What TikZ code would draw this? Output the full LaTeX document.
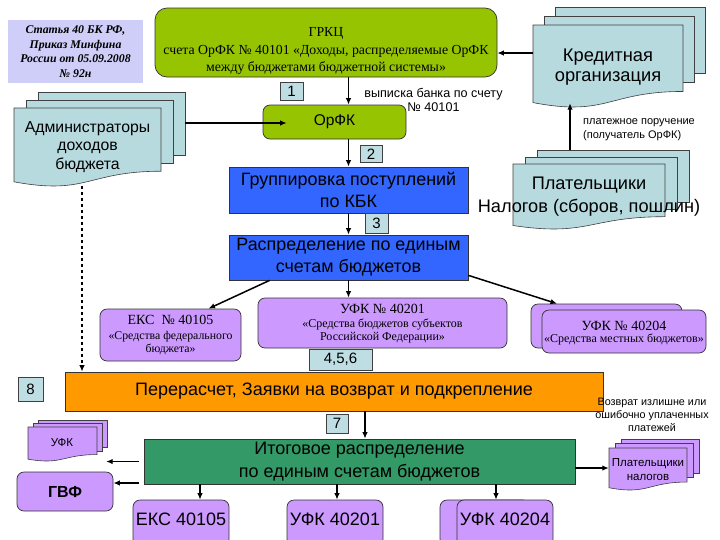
\documentclass[tikz,border=0pt]{standalone}
\usepackage{fontspec}
\setmainfont{Liberation Serif}
\setsansfont{Liberation Sans}
\usetikzlibrary{arrows.meta,calc}
\definecolor{cOlive}{RGB}{150,196,0}
\definecolor{cBlue}{RGB}{51,102,255}
\definecolor{cLav}{RGB}{204,153,255}
\definecolor{cDoc}{RGB}{183,218,223}
\definecolor{cLab}{RGB}{190,222,228}
\definecolor{cOrange}{RGB}{255,153,0}
\definecolor{cGreen}{RGB}{51,153,102}
\definecolor{cLaw}{RGB}{206,206,248}
\newcommand\fs[2]{\fontsize{#1}{#2}\selectfont}
% multi-document shape: x0 y0 x1 y1(trough) dx dy fill
\newcommand\mdoc[7]{%
  \pgfmathsetmacro\mdW{#3-#1}\pgfmathsetmacro\mdH{(#4-#2)/0.987}%
  \foreach \k in {2,1}{\filldraw[fill=#7,draw=black!75,line width=0.6pt] ({#1+\k*#5},{#2-\k*#6}) rectangle ({#3+\k*#5},{#2-\k*#6+0.8*\mdH});}
  \filldraw[fill=#7,draw=black!75,line width=0.6pt] (#1,#2) -- (#3,#2) -- (#3,{#2+0.8*\mdH}) .. controls ({#1+0.5*\mdW},{#2+0.8*\mdH}) and ({#1+0.5*\mdW},{#2+1.107*\mdH}) .. (#1,{#2+0.934*\mdH}) -- cycle;
}
\tikzset{
  x=1pt,y=-1pt,
  box/.style={draw=black!80,line width=0.7pt,inner sep=0pt,align=center},
  rbox/.style={box,rounded corners=7pt},
  ghost/.style={inner sep=0pt,draw=none},
  txt/.style={inner sep=0pt,align=center},
  num/.style={draw=black!75,line width=0.6pt,fill=cLab,inner sep=0pt,font=\sffamily\fs{15}{15}},
  arr/.style={-{Latex[length=6.5pt,width=5.5pt]},line width=1.5pt,black},
}
\begin{document}
\begin{tikzpicture}
\useasboundingbox (0,0) rectangle (720,539);
\fill[white] (0,0) rectangle (720,539);
\begin{scope}
\clip (0,0) rectangle (720,539);
% law box
\node[txt,fill=cLaw,minimum width=135,minimum height=63,font=\bfseries\itshape\fs{11.8}{14.7}] (law) at (75.5,51.5) {Статья 40 БК РФ,\\Приказ Минфина\\России от 05.09.2008\\№ 92н};
% GRKC
\node[rbox,fill=cOlive,minimum width=342,minimum height=69,rounded corners=12pt] (grkc) at (326,42.5) {};
\node[txt,font=\fs{13.8}{17.5}] (grkctxt) at (326,51) {ГРКЦ\\счета ОрФК № 40101 «Доходы, распределяемые ОрФК\\между бюджетами бюджетной системы»};
% Kredit
\mdoc{533}{25}{683}{107}{11}{9}{cDoc}
\node[ghost,minimum width=150,minimum height=82] (kredit) at (608,66) {};
\node[txt,font=\sffamily\fs{18.3}{20.5}] (kredittxt) at (608,67) {Кредитная\\организация};
% Admin
\mdoc{14}{108}{161}{186}{12}{8}{cDoc}
\node[ghost,minimum width=147,minimum height=78] (admin) at (87.5,147) {};
\node[txt,font=\sffamily\fs{15.8}{18.5}] (admintxt) at (87.5,147) {Администраторы\\доходов\\бюджета};
% Plat
\mdoc{513}{164}{665}{229}{12}{7}{cDoc}
\node[ghost,minimum width=152,minimum height=65] (plat) at (589,196.5) {};
\node[txt,font=\sffamily\fs{18.2}{23}] (plattxt) at (589,197) {Плательщики\\Налогов (сборов, пошлин)};
% OrFK
\node[rbox,fill=cOlive,minimum width=143,minimum height=34,font=\sffamily\fs{15.5}{15}] (orfk) at (334.5,122) {ОрФК};
% blue boxes
\node[box,fill=cBlue,minimum width=239,minimum height=46,font=\sffamily\fs{17.9}{22}] (grup) at (348.5,190) {Группировка поступлений\\по КБК};
\node[box,fill=cBlue,minimum width=239,minimum height=45,font=\sffamily\fs{17.9}{22}] (rasp) at (348.5,257.5) {Распределение по единым\\счетам бюджетов};
% lavender
\node[rbox,fill=cLav,minimum width=141,minimum height=52] (ekc1) at (170.5,335) {};
\node[txt,font=\fs{11.8}{13.5}] (ekc1txt) at (170.5,335) {\fs{14}{13}ЕКС\ \ № 40105\\[1pt]«Средства федерального\\бюджета»};
\node[rbox,fill=cLav,minimum width=249,minimum height=50] (ufk1) at (382.5,323) {};
\node[txt,font=\fs{12}{12.5}] (ufk1txt) at (382.5,323.5) {\fs{14}{14}УФК № 40201\\[2pt]«Средства бюджетов субъектов\\Российской Федерации»};
\node[rbox,fill=cLav,minimum width=151,minimum height=44] (ufk2b) at (606.5,326) {};
\node[rbox,fill=cLav,minimum width=164,minimum height=43] (ufk2) at (624,331.5) {};
\node[txt,font=\fs{12}{12}] (ufk2txt) at (624,333) {\fs{14}{16.5}УФК № 40204\\«Средства местных бюджетов»};
% orange and green
\node[box,fill=cOrange,minimum width=538,minimum height=39,font=\sffamily\fs{18}{18}] (orange) at (334,391.5) {Перерасчет, Заявки на возврат и подкрепление};
\node[box,fill=cGreen,minimum width=431,minimum height=45,font=\sffamily\fs{18}{23}] (green) at (359.5,461.5) {Итоговое распределение\\по единым счетам бюджетов};
% small docs
\mdoc{28}{427}{97}{461}{5}{3.5}{cLav}
\node[ghost,minimum width=69,minimum height=34] (ufks) at (62.5,444) {};
\node[txt,font=\sffamily\fs{11.5}{12}] (ufkstxt) at (62,443) {УФК};
\mdoc{609}{448}{687}{490}{6}{4.5}{cLav}
\node[ghost,minimum width=78,minimum height=42] (pn) at (648,469) {};
\node[txt,font=\sffamily\fs{11.5}{14.5}] (pntxt) at (648,469.5) {Плательщики\\налогов};
\node[rbox,fill=cLav,minimum width=96,minimum height=39,font=\bfseries\sffamily\fs{16}{16}] (gvf) at (65,491.5) {ГВФ};
% bottom boxes
\node[rbox,fill=cLav,minimum width=96,minimum height=46,font=\sffamily\fs{18}{18}] (ekc2) at (181,523) {\raisebox{8pt}{ЕКС 40105}};
\node[rbox,fill=cLav,minimum width=96,minimum height=46,font=\sffamily\fs{18}{18}] (ufk3) at (335,523) {\raisebox{8pt}{УФК 40201}};
\node[rbox,fill=cLav,minimum width=90,minimum height=46] (ufk4b) at (485,523) {};
\node[rbox,fill=cLav,minimum width=96,minimum height=46,font=\sffamily\fs{18}{18}] (ufk4) at (505,523) {\raisebox{8pt}{УФК 40204}};
% number labels
\node[num,minimum width=23,minimum height=18] (n1) at (291.5,91) {1};
\node[num,minimum width=22,minimum height=17] (n2) at (371,154) {2};
\node[num,minimum width=23,minimum height=20] (n3) at (376.5,223) {3};
\node[num,minimum width=63,minimum height=21] (n456) at (340.5,359.5) {4,5,6};
\node[num,minimum width=22,minimum height=19] (n7) at (337,423.5) {7};
\node[num,minimum width=25,minimum height=24] (n8) at (30.5,389.5) {8};
% free labels
\node[txt,font=\sffamily\fs{12.6}{14}] (vyp) at (433.5,100) {выписка банка по счету\\№ 40101};
\node[txt,align=left,anchor=west,font=\sffamily\fs{11}{14}] (plpor) at (583,130) {платежное поручение\\(получатель ОрФК)};
\node[txt,font=\sffamily\fs{10.8}{13}] (vozv) at (652,415) {Возврат излишне или\\ошибочно уплаченных\\платежей};
% connectors
\draw[arr] ([yshift=13pt]kredit.west) -- ([yshift=13pt]kredit.west -| grkc.east);
\draw[arr] ([xshift=-19pt,yshift=14pt]plat.north) -- ([xshift=-38pt,yshift=4pt]kredit.south);
\draw[arr] (grkc.south -| grup.north) -- (orfk.north -| grup.north);
\draw[arr] ([xshift=24pt,yshift=24pt]admin.east) -- ([xshift=24pt,yshift=24pt]admin.east -| orfk.west);
\draw[arr] (orfk.south -| grup.north) -- (grup.north);
\draw[arr] (grup.south) -- (rasp.north);
\draw[arr] (rasp.south) -- (rasp.south |- ufk1.north);
\draw[arr] ([xshift=41pt]rasp.south west) -- ([xshift=38pt]ekc1.north);
\draw[arr] ([yshift=5pt]rasp.south east) -- ([xshift=-67pt,yshift=6pt]ufk2.north);
\draw[arr,dashed] ([xshift=-5.5pt]admin.south) -- ([xshift=-5.5pt]admin.south |- orange.north);
\draw[arr] ([xshift=5.5pt]green.north |- orange.south) -- ([xshift=5.5pt]green.north);
\draw[arr] ([xshift=-5pt]green.west) -- ([xshift=9pt]ufks.east |- green.west);
\draw[arr] ([xshift=-5pt,yshift=-21.5pt]green.west) -- ([yshift=-21.5pt]green.west -| gvf.east);
\draw[arr] ([yshift=-6.5pt]green.east) -- ([yshift=-6.5pt]green.east -| pn.west);
\draw[arr] ([xshift=19pt]ekc2.north |- green.south) -- ([xshift=19pt]ekc2.north);
\draw[arr] ([xshift=2pt]ufk3.north |- green.south) -- ([xshift=2pt]ufk3.north);
\draw[arr] ([xshift=-9pt]ufk4.north |- green.south) -- ([xshift=-9pt]ufk4.north);
\end{scope}
\end{tikzpicture}
\end{document}
